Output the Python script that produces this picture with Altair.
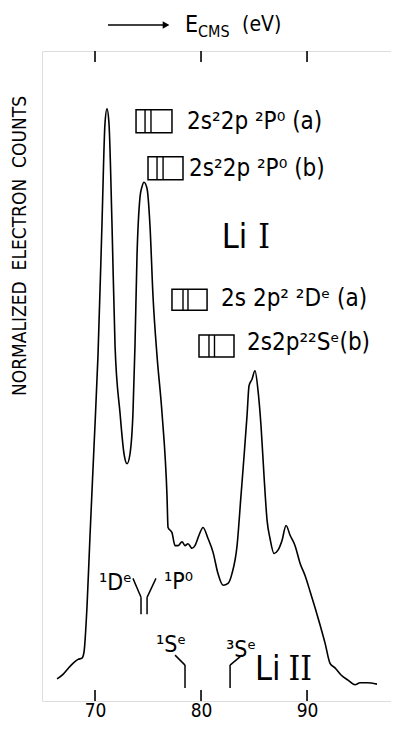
import altair as alt
import pandas as pd

# ---- spectrum (E_CMS in eV, normalized counts) ----
energy = [66.42, 66.98, 67.36, 67.92, 68.40, 68.77, 68.96, 69.25, 69.53, 69.91,
          70.28, 70.66, 70.94, 71.13, 71.32, 71.60, 71.89, 72.36, 72.74, 73.02,
          73.30, 73.58, 73.77, 73.96, 74.25, 74.43, 74.62, 74.91, 75.19, 75.47,
          75.85, 76.32, 76.79, 76.89, 77.26, 77.55, 77.83, 78.21, 78.49, 78.77,
          79.15, 79.43, 79.81, 80.19, 80.66, 81.13, 81.60, 82.08, 82.55, 82.92,
          83.40, 83.77, 84.06, 84.34, 84.53, 84.81, 85.09, 85.38, 85.66, 85.94,
          86.23, 86.51, 86.89, 87.26, 87.64, 88.02, 88.40, 88.87, 89.34, 89.81,
          90.28, 90.75, 91.23, 91.70, 92.17, 92.64, 93.21, 93.87, 94.53, 95.00,
          95.66, 96.60]
counts = [3.4, 4.1, 4.8, 5.8, 6.4, 6.6, 7.5, 14.7, 25.5, 39.3,
          53.1, 73.5, 88.8, 91.1, 88.8, 73.5, 54.6, 44.3, 38.0, 36.5,
          38.0, 44.3, 54.6, 68.4, 77.6, 79.1, 79.8, 78.8, 73.0, 62.3,
          53.1, 44.3, 31.6, 26.7, 25.9, 23.9, 23.9, 24.5, 23.9, 24.2,
          23.5, 23.9, 25.5, 26.7, 25.0, 22.9, 19.6, 17.8, 18.1, 19.6,
          23.9, 31.6, 37.7, 43.9, 48.5, 49.5, 50.8, 47.7, 42.3, 34.7,
          27.8, 25.0, 22.7, 23.2, 24.7, 27.0, 25.5, 23.9, 21.2, 19.3,
          16.9, 14.4, 11.7, 8.9, 5.8, 5.1, 4.0, 3.2, 2.5, 2.8,
          2.8, 2.6]

tick_values = [70, 80, 90]

# ---- configuration boxes (x from, x to, y from, y to, two inner lines) ----
box_x1 = [73.87, 75.00, 77.26, 79.81]
box_x2 = [77.26, 78.30, 80.57, 83.11]
box_y1 = [87.42, 80.21, 60.12, 52.91]
box_y2 = [90.95, 83.74, 63.34, 56.29]
box_in1 = [74.72, 75.85, 78.30, 80.75]
box_in2 = [75.28, 76.42, 78.77, 81.27]

# ---- state labels ----
state_labels = ["2s²2p ²P⁰ (a)", "2s²2p ²P⁰ (b)", "2s 2p² ²Dᵉ (a)", "2s2p²²Sᵉ(b)"]
state_x = [78.68, 78.87, 81.89, 84.34]
state_y = [89.1, 81.9, 61.8, 55.06]

# ---- threshold labels near the baseline ----
thr_labels = ["¹Dᵉ", "¹P⁰", "¹Sᵉ", "³Sᵉ"]
thr_x = [70.38, 76.51, 75.75, 82.36]
thr_y = [18.1, 18.25, 8.59, 7.82]

# ---- ion labels (element + roman numeral) ----
ion_labels = ["Li", "Li"]
ion_x = [81.95, 85.09]
ion_y = [71.3, 4.75]
roman_labels = ["I", "II"]
roman_x = [85.40, 88.25]

# ---- line segments: threshold markers and title arrow ----
seg_x1 = [73.58, 74.34, 75.75, 74.91, 77.55, 78.49, 83.87, 82.74, 71.23]
seg_y1 = [18.87, 15.95, 18.87, 15.95, 7.06, 5.52, 7.06, 5.52, 104.0]
seg_x2 = [74.34, 74.34, 74.91, 74.91, 78.49, 78.49, 82.74, 82.74, 76.6]
seg_y2 = [15.95, 13.34, 15.95, 13.34, 5.52, 1.99, 5.52, 1.99, 104.0]

# ---- title pieces ----
title_text = ["E", "CMS", "(eV)"]
title_x = [78.49, 79.72, 83.87]
title_y = [104.0, 103.0, 104.0]
title_size = [23, 16, 21]

ylabel = "NORMALIZED\u00a0\u00a0ELECTRON\u00a0\u00a0COUNTS"

FONT = "DejaVu Sans Condensed, DejaVu Sans, sans-serif"
SERIF = "DejaVu Serif Condensed, DejaVu Serif, serif"
xs = alt.Scale(domain=[65.0, 97.92], nice=False, zero=False)
ys = alt.Scale(domain=[0, 100], nice=False, zero=False)

curve = alt.Chart(pd.DataFrame({"E": energy, "C": counts})).mark_line(
    color="black", strokeWidth=1.6, interpolate="monotone"
).encode(
    x=alt.X("E:Q", scale=xs, axis=alt.Axis(values=tick_values, ticks=False, grid=False,
                                           domain=False, labelFontSize=19, labelFont=FONT,
                                           labelColor="black", labelPadding=0, title=None,
                                           format="d")),
    y=alt.Y("C:Q", scale=ys, axis=None),
)

tick_df = pd.DataFrame({"t": tick_values})
ticks_bottom = alt.Chart(tick_df).mark_rule(color="black", strokeWidth=1.6).encode(
    x=alt.X("t:Q", scale=xs), y=alt.datum(0), y2=alt.datum(1.7))
ticks_top = alt.Chart(tick_df).mark_rule(color="black", strokeWidth=1.6).encode(
    x=alt.X("t:Q", scale=xs), y=alt.datum(100), y2=alt.datum(98.3))

box_df = pd.DataFrame({"x1": box_x1, "x2": box_x2, "y1": box_y1, "y2": box_y2,
                       "i1": box_in1, "i2": box_in2})
boxes = alt.Chart(box_df).mark_rect(fill=None, stroke="black", strokeWidth=1.5).encode(
    x=alt.X("x1:Q", scale=xs), x2="x2:Q", y=alt.Y("y1:Q", scale=ys), y2="y2:Q")
inner1 = alt.Chart(box_df).mark_rule(color="black", strokeWidth=1.4).encode(
    x=alt.X("i1:Q", scale=xs), y=alt.Y("y1:Q", scale=ys), y2="y2:Q")
inner2 = alt.Chart(box_df).mark_rule(color="black", strokeWidth=1.4).encode(
    x=alt.X("i2:Q", scale=xs), y=alt.Y("y1:Q", scale=ys), y2="y2:Q")

state_txt = alt.Chart(pd.DataFrame({"x": state_x, "y": state_y, "t": state_labels})).mark_text(
    align="left", baseline="middle", font=FONT, fontSize=24, color="black"
).encode(x=alt.X("x:Q", scale=xs), y=alt.Y("y:Q", scale=ys), text="t:N")

thr_txt = alt.Chart(pd.DataFrame({"x": thr_x, "y": thr_y, "t": thr_labels})).mark_text(
    align="left", baseline="middle", font=FONT, fontSize=23, color="black"
).encode(x=alt.X("x:Q", scale=xs), y=alt.Y("y:Q", scale=ys), text="t:N")

ion_txt = alt.Chart(pd.DataFrame({"x": ion_x, "y": ion_y, "t": ion_labels})).mark_text(
    align="left", baseline="middle", font=FONT, fontSize=34, color="black"
).encode(x=alt.X("x:Q", scale=xs), y=alt.Y("y:Q", scale=ys), text="t:N")

roman_txt = alt.Chart(pd.DataFrame({"x": roman_x, "y": ion_y, "t": roman_labels})).mark_text(
    align="left", baseline="middle", font=SERIF, fontSize=33, color="black"
).encode(x=alt.X("x:Q", scale=xs), y=alt.Y("y:Q", scale=ys), text="t:N")

seg_df = pd.DataFrame({"x1": seg_x1, "y1": seg_y1, "x2": seg_x2, "y2": seg_y2})
segs = alt.Chart(seg_df).mark_rule(color="black", strokeWidth=1.5).encode(
    x=alt.X("x1:Q", scale=xs), y=alt.Y("y1:Q", scale=ys), x2="x2:Q", y2="y2:Q")

arrow_head = alt.Chart(pd.DataFrame({"x": [76.7], "y": [104.0]})).mark_point(
    shape="triangle-right", filled=True, color="black", size=60, opacity=1
).encode(x=alt.X("x:Q", scale=xs), y=alt.Y("y:Q", scale=ys))

title_df = pd.DataFrame({"x": title_x, "y": title_y, "t": title_text, "s": title_size})
title_txt = alt.Chart(title_df).mark_text(
    align="left", baseline="middle", font=FONT, color="black"
).encode(x=alt.X("x:Q", scale=xs), y=alt.Y("y:Q", scale=ys), text="t:N",
         size=alt.Size("s:Q", scale=None, legend=None))

ylab = alt.Chart(pd.DataFrame({"x": [62.92], "y": [70.0], "t": [ylabel]})).mark_text(
    align="center", baseline="middle", angle=270, font=FONT, fontSize=19, color="black"
).encode(x=alt.X("x:Q", scale=xs), y=alt.Y("y:Q", scale=ys), text="t:N")

chart = alt.layer(
    curve, ticks_bottom, ticks_top, boxes, inner1, inner2, state_txt, thr_txt,
    ion_txt, roman_txt, segs, arrow_head, title_txt, ylab
).properties(
    width=349, height=650,
    padding={"left": 34, "top": 43, "right": 0, "bottom": 19},
    autosize="none",
).configure_view(stroke="black", strokeWidth=2).configure(background="white")

chart.save("out.html", embed_options={"renderer": "svg", "actions": False})
